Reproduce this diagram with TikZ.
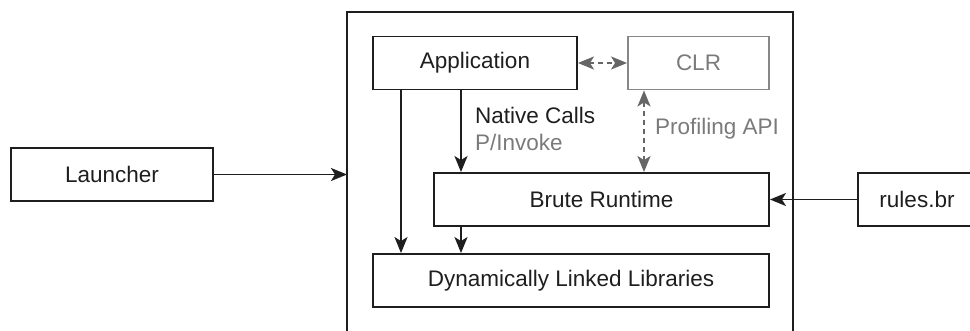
\documentclass[tikz,border=0pt]{standalone}
\usepackage{fontspec}
\setmainfont{Liberation Sans}
\usetikzlibrary{arrows.meta}
\definecolor{ink}{HTML}{1E1E1E}
\definecolor{soft}{HTML}{7A7A7A}
\definecolor{softline}{HTML}{666666}
\tikzset{
  box/.style={draw=ink, line width=1.9pt, text=ink, minimum height=53pt, inner sep=0pt,
    font=\fontsize{22.5}{27}\selectfont},
  greybox/.style={box, draw=soft!90, text=soft},
  flow/.style={draw=ink, line width=1.9pt, -{Stealth[length=16pt,width=13pt,inset=4pt]}},
  greyflow/.style={draw=softline, line width=1.9pt, dash pattern=on 5pt off 4pt,
    {Stealth[length=16pt,width=13pt,inset=4pt]}-{Stealth[length=16pt,width=13pt,inset=4pt]}},
  lbl/.style={anchor=west, inner sep=0pt, font=\fontsize{22.5}{27}\selectfont},
}
\begin{document}
\begin{tikzpicture}[x=1pt, y=-1pt]
\useasboundingbox (0,0) rectangle (970,331);
\clip (0,0) rectangle (970,331);

% outer process boundary, open at the bottom
\draw[ink, line width=1.9pt] (347,340) -- (347,12) -- (793,12) -- (793,340);

% components
\node[box, minimum width=204pt] (app) at (475,63) {Application};
\node[greybox, minimum width=141pt] (clr) at (698.5,63) {CLR};
\node[box, minimum width=335pt] (brute) at (601.5,199.5) {Brute Runtime};
\node[box, minimum width=396pt] (dll) at (571,280.5) {Dynamically Linked Libraries};
\node[box, minimum width=202pt] (launch) at (112,174.5) {Launcher};
\node[box, minimum width=118pt] (rules) at (917,199.5) {rules.br};
\coordinate (hostIn) at (347,174.5);

% connectors
\draw[flow] (launch.east) -- (hostIn);
\draw[flow] (rules.west) -- (brute.east);
\draw[flow] (app.south -| 461,0) -- (brute.north -| 461,0);
\draw[flow] (brute.south -| 461,0) -- (dll.north -| 461,0);
\draw[flow] (app.south -| 401,0) -- (dll.north -| 401,0);
\draw[greyflow] (app.east) -- (clr.west);
\draw[greyflow] (clr.south -| 644,0) -- (brute.north -| 644,0);

% labels
\node[lbl, text=ink] (native) at (475,115) {Native Calls};
\node[lbl, text=soft] (pinv) at (475,142) {P/Invoke};
\node[lbl, text=soft] (prof) at (655,129) {Profiling API};
\end{tikzpicture}
\end{document}
